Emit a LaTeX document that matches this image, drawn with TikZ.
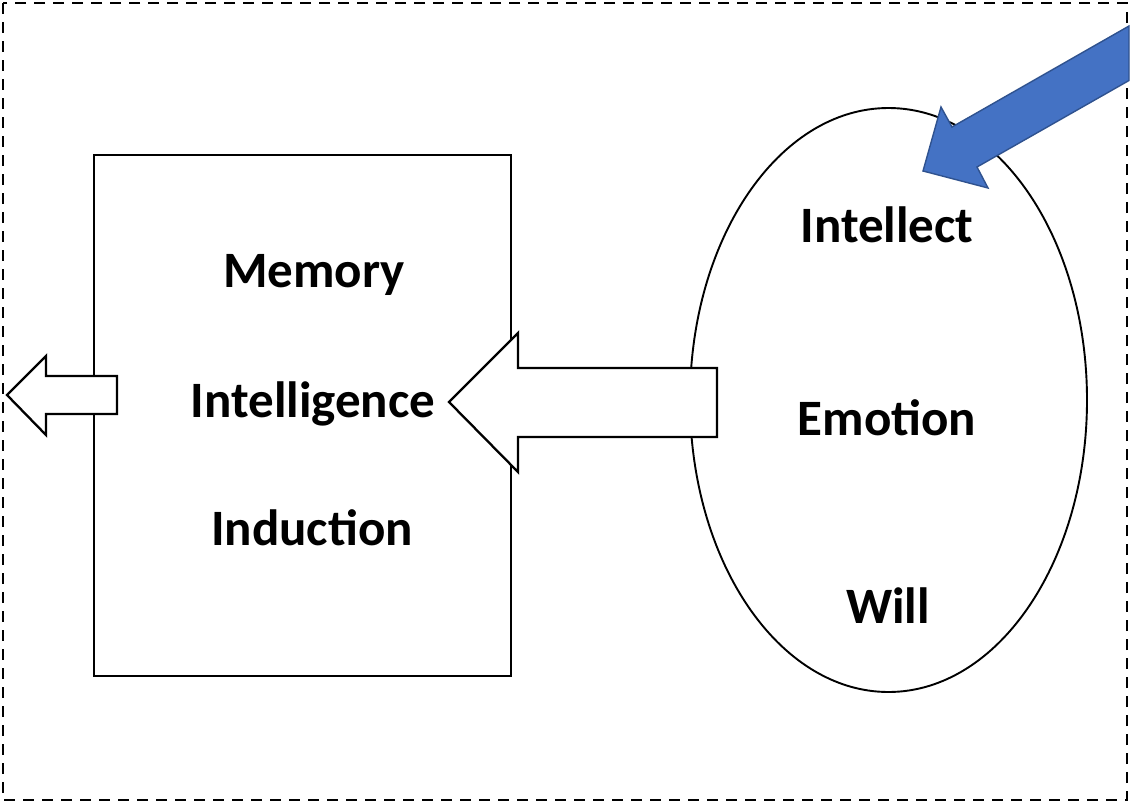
\documentclass[tikz,border=0pt]{standalone}
\usepackage{fontspec}
\setmainfont{Carlito}
\definecolor{arrowblue}{HTML}{4472C4}
\definecolor{arrowedge}{HTML}{2F528F}
\begin{document}
\begin{tikzpicture}[x=1pt,y=-1pt,
  label/.style={font=\fontsize{51}{61}\selectfont\bfseries, inner sep=0pt, anchor=base},
  blockarrow/.style={draw=black, line width=2.3pt, fill=white, line join=miter},
  bluearrow/.style={draw=arrowedge, line width=1.4pt, fill=arrowblue, line join=miter},
  frame/.style={draw=black, line width=2.4pt, dash pattern=on 11pt off 8pt}]
\useasboundingbox (0,0) rectangle (1130,803);
% dashed frame
\draw[frame] (3,3) rectangle (1127,800);
% box
\node[draw, line width=2.2pt, minimum width=417pt, minimum height=521pt, inner sep=0pt, anchor=north west] (box) at (93,154) {};
% ellipse
\draw[line width=1.9pt] (888.5,400) ellipse [x radius=198.5, y radius=292];
\coordinate (ell) at (888.5,400);
% small left arrow
\draw[blockarrow] (7,395) -- (46,356) -- (46,376) -- (117,376) -- (117,414) -- (46,414) -- (46,435) -- cycle;
% big left arrow
\draw[blockarrow] (449,402) -- (518,333) -- (518,368) -- (717,368) -- (717,437) -- (518,437) -- (518,472) -- cycle;
% blue arrow
\draw[bluearrow] (923,171) -- (941,107) -- (952,127) -- (1129,26) -- (1129,80.5) -- (977,167) -- (988,188) -- cycle;
% texts
\node[label] (mem) at (314,287) {Memory};
\node[label] (int) at (313,417) {Intelligence};
\node[label] (ind) at (312,545) {Induction};
\node[label] (intel) at (887,242) {Intellect};
\node[label] (emo) at (887,435) {Emotion};
\node[label] (will) at (888,623) {Will};
\end{tikzpicture}
\end{document}
